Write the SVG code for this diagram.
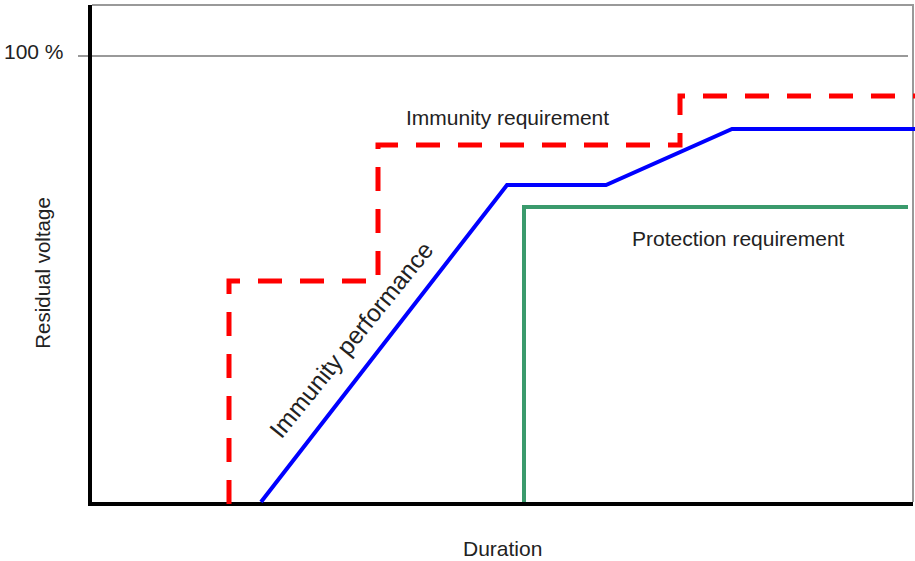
<svg xmlns="http://www.w3.org/2000/svg" width="915" height="561" viewBox="0 0 915 561">
<style>
text{font-family:"Liberation Sans",Arial,sans-serif;font-size:21px;fill:#222}
.frame{stroke:#999;stroke-width:2;fill:none}
.axis{stroke:#000;stroke-width:4;fill:none}
.req{stroke:#ff0000;stroke-width:5;fill:none;stroke-dasharray:24 18}
.perf{stroke:#0000ff;stroke-width:4;fill:none}
.prot{stroke:#3a9a6c;stroke-width:4;fill:none}
</style>
<rect width="915" height="561" fill="#fff"/>
<g id="frame">
<path class="frame" d="M92 5H913V502"/>
<path class="frame" d="M78 56H908"/>
</g>
<g id="axes">
<path class="axis" d="M90 5V504H913"/>
</g>
<g id="connectors">
<path id="immunity-requirement" class="req" d="M229 504V281H378V145H680V96H915"/>
<path id="immunity-performance" class="perf" d="M261 502L507 185H606L732 129H915"/>
<path id="protection-requirement" class="prot" d="M524 502V207H908"/>
</g>
<g id="labels">
<text x="4" y="59">100 %</text>
<text x="406" y="125">Immunity requirement</text>
<text x="632" y="246">Protection requirement</text>
<text x="463" y="556">Duration</text>
<text transform="translate(50,273) rotate(-90)" text-anchor="middle" style="font-size:20.5px">Residual voltage</text>
<text transform="translate(358,345) rotate(-51)" text-anchor="middle" style="font-size:24.5px">Immunity performance</text>
</g>
</svg>
